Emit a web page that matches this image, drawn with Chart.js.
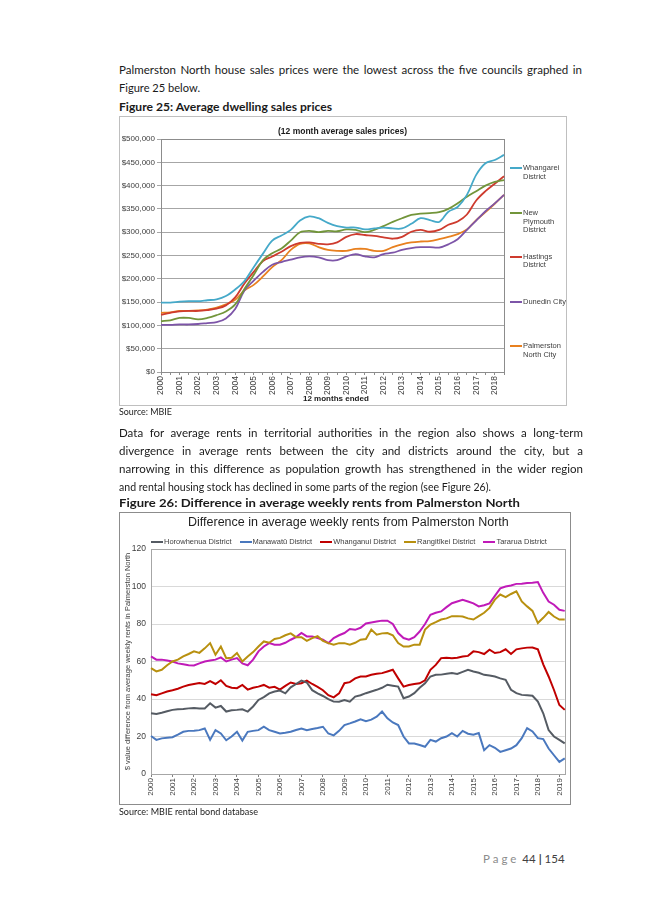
<!DOCTYPE html>
<html>
<head>
<meta charset="utf-8">
<script src="https://cdn.jsdelivr.net/npm/chart.js@4.4.1/dist/chart.umd.min.js"></script>
<style>
  html, body { margin: 0; padding: 0; background: #fff; }
  body { width: 645px; height: 912px; position: relative; overflow: hidden; font-family: Lato, "Open Sans", sans-serif; color: #1a1a1a; }
  .ln { position: absolute; left: 119px; white-space: nowrap; font-size: 12px; line-height: 18px; }
  .ln span { display: inline-block; transform-origin: 0 50%; }
  .b { font-weight: bold; }
  .src { font-size: 9.5px; line-height: 12px; }
  .box { position: absolute; box-sizing: border-box; }
  .box canvas { position: absolute; left: 0; top: 0; }
  .ct { position: absolute; font-family: "Liberation Sans", Arial, sans-serif; color: #404040; white-space: nowrap; }
  .leg1 { position: absolute; left: 390px; width: 60px; font-family: "Liberation Sans", Arial, sans-serif; font-size: 7.5px; line-height: 8.5px; color: #404040; }
  .leg1 i { position: absolute; left: 0; top: 3px; width: 12px; height: 2px; }
  .leg1 div { margin-left: 13px; width: 46px; }
  #leg2 { position: absolute; left: 31px; top: 24px; display: flex; gap: 8px; font-family: "Liberation Sans", Arial, sans-serif; font-size: 7.5px; color: #404040; }
  #leg2 .it { display: flex; align-items: center; }
  #leg2 i { display: inline-block; width: 12px; height: 2px; margin-right: 1px; }
  .pg { position: absolute; left: 483px; top: 850px; font-size: 11.5px; line-height: 18px; color: #404040; }
  .pg .p { color: #8c8c8c; letter-spacing: 3px; }
</style>
</head>
<body>

<div class="ln j" data-w="463" style="top:61px">Palmerston North house sales prices were the lowest across the five councils graphed in</div>
<div class="ln" data-w="81" style="top:79px">Figure 25 below.</div>
<div class="ln b" data-w="213" style="top:98px">Figure 25: Average dwelling sales prices</div>

<div class="box" id="box1" style="left:119px; top:116px; width:448px; height:290px; border:1px solid #BFBFBF;">
  <canvas id="chart1" width="446" height="288"></canvas>
  <div class="ct" style="left:158px; top:9px; font-size:8.5px; font-weight:bold; color:#1a1a1a;">(12 month average sales prices)</div>
  <div id="leg1"></div>
  <div class="ct" style="left:183px; top:277px; font-size:8px; font-weight:bold; color:#1a1a1a;">12 months ended</div>
</div>

<div class="ln src" data-w="53" style="top:406px">Source: MBIE</div>

<div class="ln j" data-w="464" style="top:424px">Data for average rents in territorial authorities in the region also shows a long-term</div>
<div class="ln j" data-w="464" style="top:442px">divergence in average rents between the city and districts around the city, but a</div>
<div class="ln j" data-w="464" style="top:460px">narrowing in this difference as population growth has strengthened in the wider region</div>
<div class="ln" data-w="372" style="top:478px">and rental housing stock has declined in some parts of the region (see Figure 26).</div>
<div class="ln b" data-w="401" style="top:494px">Figure 26: Difference in average weekly rents from Palmerston North</div>

<div class="box" id="box2" style="left:119px; top:512px; width:452px; height:293px; border:1px solid #8C8C8C;">
  <canvas id="chart2" width="450" height="291"></canvas>
  <div class="ct" style="left:68px; top:2px; font-size:12.5px; color:#1f1f1f;">Difference in average weekly rents from Palmerston North</div>
  <div id="leg2"></div>
</div>

<div class="ln src" data-w="139" style="top:806px">Source: MBIE rental bond database</div>

<div class="pg"><span class="p">Page</span> 44 <b>|</b> 154</div>

<script>
// ---- Figure 25: average dwelling sales prices, half-yearly (2000 H1 .. 2018 H1) ----
const years1 = ['2000', '2001', '2002', '2003', '2004', '2005', '2006', '2007', '2008', '2009',
                '2010', '2011', '2012', '2013', '2014', '2015', '2016', '2017', '2018'];
const names1 = ['Whangarei District', 'New Plymouth District', 'Hastings District', 'Dunedin City', 'Palmerston North City'];
const colors1 = ['#45A9C9', '#72953A', '#CE3B2E', '#7D55A8', '#E8801F'];

// values in $ thousands
const whangarei = [149, 149, 151, 152, 152, 154, 156, 163, 177, 195, 225, 254, 282, 293, 305, 325, 334, 330, 320, 313,
                   310, 310, 306, 308, 310, 308, 308, 318, 330, 326, 322, 344, 354, 380, 423, 448, 455, 466];
const newPlymouth = [109, 111, 116, 116, 113, 116, 122, 130, 145, 178, 208, 240, 255, 265, 282, 300, 303, 300, 303, 302,
                     306, 305, 300, 305, 313, 322, 330, 337, 340, 341, 343, 350, 362, 376, 388, 400, 408, 412];
const hastings = [123, 127, 130, 131, 131, 133, 136, 143, 160, 190, 215, 238, 248, 258, 270, 277, 278, 275, 274, 278,
                  290, 296, 294, 292, 289, 286, 290, 301, 305, 301, 305, 316, 323, 338, 368, 388, 404, 420];
const dunedin = [101, 101, 102, 102, 103, 105, 107, 115, 135, 175, 196, 215, 230, 236, 241, 246, 248, 246, 240, 240,
                 248, 253, 248, 246, 253, 256, 262, 266, 268, 268, 267, 274, 285, 305, 325, 345, 362, 380];
const palmerston = [127, 128, 131, 131, 132, 134, 138, 145, 155, 175, 187, 205, 225, 240, 262, 275, 276, 268, 262, 260,
                    260, 264, 264, 260, 260, 268, 274, 278, 280, 281, 285, 290, 296, 306, 326, 343, 361, 380];

// ---- Figure 26: rent differences, quarterly (2000 Q1 .. 2019 Q2) ----
const years2 = ['2000', '2001', '2002', '2003', '2004', '2005', '2006', '2007', '2008', '2009',
                '2010', '2011', '2012', '2013', '2014', '2015', '2016', '2017', '2018', '2019'];
const names2 = ['Horowhenua District', 'Manawatū District', 'Whanganui District', 'Rangitīkei District', 'Tararua District'];
const colors2 = ['#555B63', '#4A78BE', '#C00000', '#B8900F', '#C01AB8'];

const horowhenua = [32.4, 32, 32.7, 33.5, 34.2, 34.5, 34.7, 35, 35.2, 35, 35, 37.7, 35.4, 36.3, 33.3, 34,
                    34.2, 34.5, 33.3, 36, 39.5, 41, 43, 44, 44.5, 43, 46.2, 48, 49.8, 48.8, 44.7, 43,
                    41.6, 39.9, 38.6, 38.5, 39.5, 38.6, 41.3, 42, 43.1, 44, 44.9, 46, 47.6, 47.1, 46.6, 40.4,
                    41.3, 43.1, 46, 48.4, 52, 52.9, 53, 53.5, 53.8, 53.4, 54.5, 55.6, 54.7, 54, 52.9, 52.5,
                    52, 51, 50.2, 44.9, 43.1, 42.2, 42, 41.7, 38.6, 32.4, 23.4, 20, 18.2, 16.3];
const manawatu = [20.3, 18.2, 19, 19.3, 19.6, 21, 22.5, 23, 23.1, 23.4, 24.3, 18.2, 23.4, 21.6, 18, 20,
                  22.5, 17.8, 22.5, 23, 23.4, 25.2, 23.4, 22.5, 21.6, 22, 22.5, 23.5, 24.3, 23.4, 24, 24.5,
                  25.2, 21.6, 20.6, 23, 26.1, 27, 28, 29.2, 28.2, 29, 30.6, 33.3, 29.7, 27.5, 26.1, 20,
                  16.3, 16.3, 15.5, 14.5, 18.2, 17.3, 19.1, 20, 21.8, 20, 23, 21.5, 20.9, 21.8, 12.7, 15.4,
                  14, 11.8, 12.7, 13.6, 15.4, 19.1, 24.5, 22.7, 19.1, 18.6, 13.6, 10, 6.5, 8.3];
const whanganui = [42.5, 42, 43, 44, 44.7, 45.5, 46.6, 47.5, 48, 48.5, 48, 49.5, 48, 50, 47, 46,
                   45.8, 47.5, 45, 46, 46.6, 47.5, 46, 46.5, 45, 47, 48.8, 48, 48.4, 49.8, 48, 46.5,
                   44.7, 42, 40.9, 43, 48.4, 49, 51, 52, 52, 52.9, 53.5, 53.8, 54.7, 55.6, 51, 46.6,
                   47.5, 48, 48.4, 50, 55.6, 58.2, 61.8, 62, 61.8, 62, 62.7, 63, 65.4, 65, 64, 66.3,
                   64.5, 65, 66.5, 64, 66.5, 67, 67.4, 67.5, 66.5, 58.5, 52, 44.8, 36.8, 34.2];
const rangitikei = [56.5, 54.7, 55.6, 58, 60, 61, 62.7, 64, 65.4, 64.6, 67, 69.8, 63.6, 68, 61.8, 62,
                    64.5, 60, 62.7, 65, 68, 70.7, 70, 72, 72.6, 74, 75, 73, 73, 71, 72.5, 73.5,
                    71, 69.8, 69, 69.8, 69.8, 69, 70, 71.6, 72, 77, 74.3, 75, 75.2, 74, 69.8, 68,
                    68, 69, 69, 77, 79.7, 81, 82.4, 83, 84.2, 84.2, 84, 83, 82.4, 84.2, 86, 88.6,
                    93, 95.7, 94.3, 96, 97.4, 92, 89.4, 87, 80.5, 83.3, 86.4, 84, 82.4, 82.4];
const tararua = [62.7, 61, 61, 60.5, 60, 59, 58.5, 58, 57.9, 59, 60, 60.5, 61, 62.2, 60, 61,
                 61.8, 59, 58, 61, 65.4, 68, 69.8, 69, 69, 70, 71.6, 73, 75.2, 73.4, 73.4, 72.5,
                 71.6, 69.8, 72.5, 74, 75.2, 77.3, 76.9, 78, 80.3, 80.8, 81.3, 81.8, 81.8, 80, 75.2, 72.5,
                 71.6, 73, 76, 80, 84.9, 86, 86.7, 89, 91.1, 92, 92.9, 92, 91, 89.4, 90, 91,
                 95, 99, 100, 100.5, 101.4, 101.5, 101.9, 102, 102.4, 96.6, 92, 90.3, 87.6, 87];

// fit the body text lines to the widths of the original page
// (Lato runs a touch wider than the original face, so glyphs are narrowed slightly)
const narrow = 0.96;
document.querySelectorAll('.ln').forEach(el => {
  const span = document.createElement('span');
  span.textContent = el.textContent;
  el.textContent = '';
  el.appendChild(span);
  const w = span.getBoundingClientRect().width;
  const target = +el.dataset.w;
  const spaces = (span.textContent.match(/ /g) || []).length;
  if (el.classList.contains('j') && w * narrow < target && spaces) {
    span.style.wordSpacing = ((target / narrow - w) / spaces) + 'px';
    span.style.transform = 'scaleX(' + narrow + ')';
  } else {
    span.style.transform = 'scaleX(' + (target / w) + ')';
  }
});

// draws a frame round the plot area
const plotBorder = {
  id: 'plotBorder',
  beforeDatasetsDraw(chart, args, opts) {
    const a = chart.chartArea;
    const ctx = chart.ctx;
    ctx.save();
    ctx.strokeStyle = opts.color;
    ctx.lineWidth = 1;
    ctx.strokeRect(Math.round(a.left) + 0.5, Math.round(a.top) + 0.5, Math.round(a.right - a.left), Math.round(a.bottom - a.top));
    ctx.restore();
  }
};

const axisFont = { family: '"Liberation Sans", Arial, sans-serif', size: 8 };

// Figure 25
const labels1 = years1.flatMap(y => [y, '']);
const series1 = [whangarei, newPlymouth, hastings, dunedin, palmerston];

new Chart(document.getElementById('chart1'), {
  type: 'line',
  data: {
    labels: labels1,
    datasets: series1.map((s, i) => ({
      label: names1[i],
      data: s.map(v => v * 1000),
      borderColor: colors1[i],
      borderWidth: 1.8,
      pointRadius: 0,
      tension: 0.35,
      fill: false
    }))
  },
  options: {
    responsive: false,
    animation: false,
    layout: { padding: { left: 0, right: 62, top: 22, bottom: 0 } },
    plugins: {
      legend: { display: false },
      tooltip: { enabled: false },
      plotBorder: { color: '#8C8C8C' }
    },
    scales: {
      x: {
        offset: false,
        grid: { drawOnChartArea: false, tickLength: 3, color: '#8C8C8C' },
        border: { color: '#8C8C8C' },
        ticks: { autoSkip: false, maxRotation: 90, minRotation: 90, padding: 1, font: { ...axisFont, size: 8.5 }, color: '#404040' },
        afterFit(s) { s.height = 33; }
      },
      y: {
        min: 0,
        max: 500000,
        grid: { color: '#A6A6A6', tickLength: 4 },
        border: { color: '#8C8C8C' },
        ticks: {
          stepSize: 50000,
          padding: 2,
          font: axisFont,
          color: '#404040',
          callback: v => '$' + v.toLocaleString('en-US')
        },
        afterFit(s) { s.width = 41; }
      }
    }
  },
  plugins: [plotBorder]
});

// legend for Figure 25 (right side, wrapped text)
const leg1Tops = [164, 209, 252.5, 297.5, 342];
const leg1 = document.getElementById('leg1');
names1.forEach((n, i) => {
  const d = document.createElement('div');
  d.className = 'leg1';
  d.style.top = (leg1Tops[i] - 117) + 'px';
  d.innerHTML = '<i style="background:' + colors1[i] + '"></i><div>' + n + '</div>';
  leg1.appendChild(d);
});

// Figure 26
const labels2 = years2.flatMap(y => [y, '', '', '']).slice(0, whanganui.length);
const series2 = [horowhenua, manawatu, whanganui, rangitikei, tararua];

new Chart(document.getElementById('chart2'), {
  type: 'line',
  data: {
    labels: labels2,
    datasets: series2.map((s, i) => ({
      label: names2[i],
      data: s,
      borderColor: colors2[i],
      borderWidth: 2,
      pointRadius: 0,
      tension: 0,
      fill: false
    }))
  },
  options: {
    responsive: false,
    animation: false,
    layout: { padding: { left: 0, right: 3, top: 36, bottom: 0 } },
    plugins: {
      legend: { display: false },
      tooltip: { enabled: false },
      plotBorder: { color: '#A6A6A6' }
    },
    scales: {
      x: {
        offset: false,
        grid: { drawOnChartArea: false, tickLength: 3, color: '#808080' },
        border: { color: '#808080' },
        ticks: {
          autoSkip: false, maxRotation: 90, minRotation: 90, padding: 1,
          font: axisFont, color: '#404040',
          callback(v) { const l = this.getLabelForValue(v); return l === '' ? null : l; }
        },
        afterFit(s) { s.height = 30; }
      },
      y: {
        min: 0,
        max: 120,
        grid: { color: '#D9D9D9', drawTicks: false },
        border: { color: '#808080' },
        ticks: { stepSize: 20, padding: 5, font: { ...axisFont, size: 8.5 }, color: '#404040' },
        title: {
          display: true,
          text: '$ value difference from average weekly rents in Palmerston North',
          font: { ...axisFont, size: 7.5 },
          color: '#404040',
          padding: { top: 3, bottom: 0 }
        },
        afterFit(s) { s.width = 31; }
      }
    }
  },
  plugins: [plotBorder]
});

// legend for Figure 26 (top row)
const leg2 = document.getElementById('leg2');
names2.forEach((n, i) => {
  const d = document.createElement('div');
  d.className = 'it';
  d.innerHTML = '<i style="background:' + colors2[i] + '"></i><span>' + n + '</span>';
  leg2.appendChild(d);
});
</script>
</body>
</html>
